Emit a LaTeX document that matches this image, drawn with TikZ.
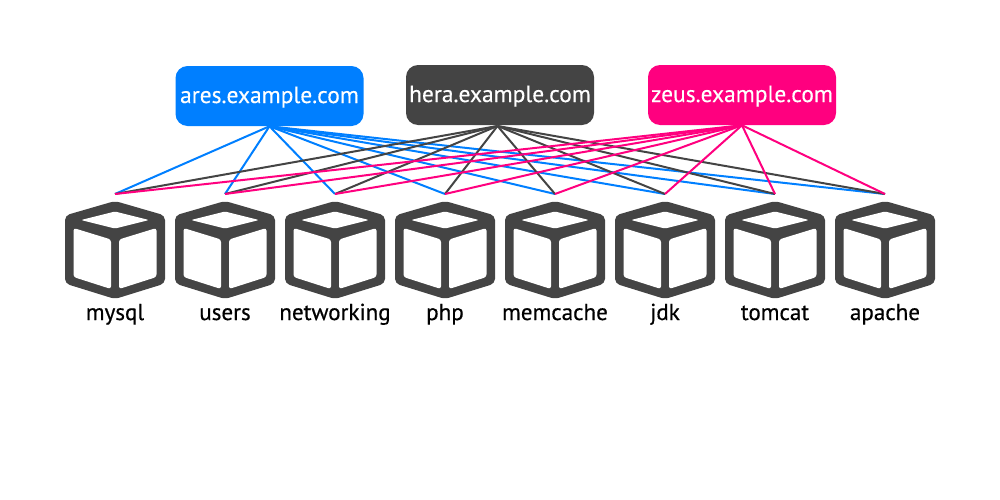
\documentclass[tikz,border=0pt]{standalone}
\usepackage{fontspec}
\setmainfont{PT Sans}
\usetikzlibrary{positioning}
\definecolor{aresblue}{HTML}{007FFF}
\definecolor{heragray}{HTML}{444444}
\definecolor{zeuspink}{HTML}{FF007F}

\begin{document}
\begin{tikzpicture}[
  x=0.75pt,y=-0.75pt,
  host/.style={rectangle,rounded corners=9pt,fill=#1,minimum width=141pt,minimum height=45pt,inner sep=0pt},
  hostname/.style={anchor=base,inner sep=0pt,text=white,font=\fontsize{17.6}{20}\selectfont\addfontfeature{FakeBold=0.3}},
  link/.style={line width=1.5pt,#1},
  pkg/.style={anchor=base,font=\fontsize{17.3}{20}\selectfont\addfontfeature{FakeBold=0.5},text=black,inner sep=0pt},
  cube/.pic={
    \fill[heragray,rounded corners=3.5pt] (0,-49) -- (50,-34.5) -- (50,33.5) -- (0,49) -- (-50,33.5) -- (-50,-34.5) -- cycle;
    \fill[white,rounded corners=1pt] (0,-38.5) -- (34,-30) -- (0,-21.5) -- (-34,-30) -- cycle;
    \fill[white,rounded corners=2pt] (-41.5,-22) -- (-4,-10.5) -- (-4,39) -- (-41.5,27) -- cycle;
    \fill[white,rounded corners=2pt] (41.5,-22) -- (4,-10.5) -- (4,39) -- (41.5,27) -- cycle;
  },
]
\useasboundingbox (0,0) rectangle (1000,500);

% Hosts - top
\node[host=aresblue] (ares) at (269.5,96) {};
\node[hostname] (areslabel) at (269.5,103) {ares.example.com};
\node[host=heragray] (hera) at (500,95) {};
\node[hostname] (heralabel) at (500,102) {hera.example.com};
\node[host=zeuspink] (zeus) at (742,95) {};
\node[hostname] (zeuslabel) at (742,102) {zeus.example.com};
\coordinate (herafoot) at (497.5,126);

% Link ends above the cubes
\coordinate (mysqltop) at (115,194);
\coordinate (userstop) at (225,194);
\coordinate (networkingtop) at (335,194);
\coordinate (phptop) at (445,194);
\coordinate (memcachetop) at (555,194);
\coordinate (jdktop) at (665,194);
\coordinate (tomcattop) at (775,194);
\coordinate (apachetop) at (885,194);

% Cubes and names
\pic at (115,250) {cube};
\node[pkg] (mysql) at (115,320) {mysql};
\pic at (225,250) {cube};
\node[pkg] (users) at (225,320) {users};
\pic at (335,250) {cube};
\node[pkg] (networking) at (335,320) {networking};
\pic at (445,250) {cube};
\node[pkg] (php) at (445,320) {php};
\pic at (555,250) {cube};
\node[pkg] (memcache) at (555,320) {memcache};
\pic at (665,250) {cube};
\node[pkg] (jdk) at (665,320) {jdk};
\pic at (775,250) {cube};
\node[pkg] (tomcat) at (775,320) {tomcat};
\pic at (885,250) {cube};
\node[pkg] (apache) at (885,320) {apache};

% Links from ares
\draw[link=aresblue] (ares.south) -- (mysqltop);
\draw[link=aresblue] (ares.south) -- (userstop);
\draw[link=aresblue] (ares.south) -- (networkingtop);
\draw[link=aresblue] (ares.south) -- (phptop);
\draw[link=aresblue] (ares.south) -- (memcachetop);
\draw[link=aresblue] (ares.south) -- (jdktop);
\draw[link=aresblue] (ares.south) -- (tomcattop);
\draw[link=aresblue] (ares.south) -- (apachetop);

% Links from hera
\draw[link=heragray] (herafoot) -- (mysqltop);
\draw[link=heragray] (herafoot) -- (userstop);
\draw[link=heragray] (herafoot) -- (networkingtop);
\draw[link=heragray] (herafoot) -- (phptop);
\draw[link=heragray] (herafoot) -- (memcachetop);
\draw[link=heragray] (herafoot) -- (jdktop);
\draw[link=heragray] (herafoot) -- (tomcattop);
\draw[link=heragray] (herafoot) -- (apachetop);

% Links from zeus
\draw[link=zeuspink] (zeus.south) -- (mysqltop);
\draw[link=zeuspink] (zeus.south) -- (userstop);
\draw[link=zeuspink] (zeus.south) -- (networkingtop);
\draw[link=zeuspink] (zeus.south) -- (phptop);
\draw[link=zeuspink] (zeus.south) -- (memcachetop);
\draw[link=zeuspink] (zeus.south) -- (jdktop);
\draw[link=zeuspink] (zeus.south) -- (tomcattop);
\draw[link=zeuspink] (zeus.south) -- (apachetop);
\end{tikzpicture}
\end{document}
